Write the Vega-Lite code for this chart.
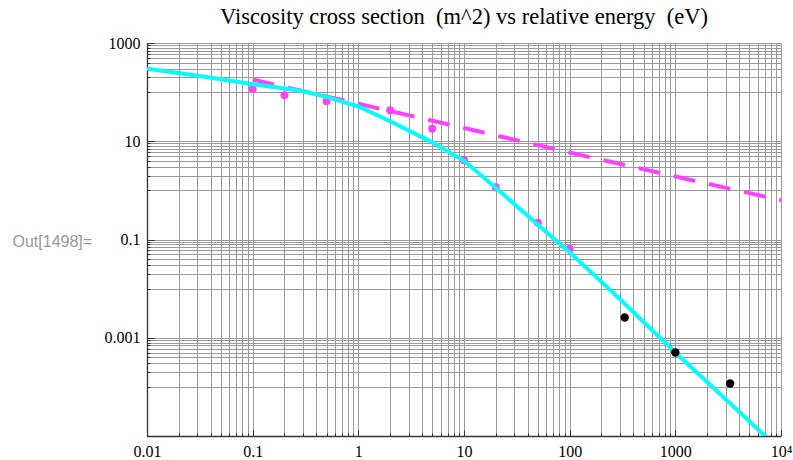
{
  "$schema": "https://vega.github.io/schema/vega-lite/v6.json",
  "width": 634,
  "height": 393,
  "autosize": {"type": "none"},
  "padding": {"left": 147, "top": 43, "right": 12, "bottom": 24},
  "background": "white",
  "config": {"view": {"stroke": null}},
  "title": {
    "text": "Viscosity cross section \u00a0(m^2) vs relative energy \u00a0(eV)",
    "font": "Liberation Serif",
    "fontSize": 22.5,
    "fontWeight": "normal",
    "color": "black",
    "anchor": "middle",
    "baseline": "alphabetic",
    "offset": 15,
    "dy": 26
  },
  "datasets": {
    "cyan": [
      {"e": 0.01, "s": 300}, {"e": 0.02, "s": 245}, {"e": 0.05, "s": 182},
      {"e": 0.1, "s": 145}, {"e": 0.2, "s": 118}, {"e": 0.3, "s": 104},
      {"e": 0.5, "s": 80}, {"e": 0.7, "s": 64}, {"e": 1, "s": 51},
      {"e": 2, "s": 25.5}, {"e": 5, "s": 9.5}, {"e": 10, "s": 4.0},
      {"e": 20, "s": 1.13}, {"e": 50, "s": 0.2}, {"e": 100, "s": 0.055},
      {"e": 300, "s": 0.0061}, {"e": 1000, "s": 0.0005}, {"e": 3000, "s": 0.000056},
      {"e": 7500, "s": 0.0000089}
    ],
    "fit": [
      {"e": 0.1, "s": 180}, {"e": 1, "s": 58}, {"e": 10, "s": 18.6},
      {"e": 100, "s": 5.9}, {"e": 1000, "s": 1.92}, {"e": 10000, "s": 0.63}
    ],
    "pink": [
      {"e": 0.1, "s": 116}, {"e": 0.2, "s": 86}, {"e": 0.5, "s": 65},
      {"e": 2, "s": 42.7}, {"e": 5, "s": 18}, {"e": 10, "s": 4.1},
      {"e": 20, "s": 1.16}, {"e": 50, "s": 0.22}, {"e": 100, "s": 0.065}
    ],
    "black": [
      {"e": 332, "s": 0.00258}, {"e": 1000, "s": 0.0005}, {"e": 3300, "s": 0.000117}
    ]
  },
  "encoding": {
    "x": {
      "field": "e",
      "type": "quantitative",
      "scale": {"type": "log", "domain": [0.01, 10000], "nice": false},
      "axis": {
        "title": null,
        "values": [0.01,0.02,0.03,0.04,0.05,0.06,0.07,0.08,0.09,0.1,0.2,0.3,0.4,0.5,0.6,0.7,0.8,0.9,1,2,3,4,5,6,7,8,9,10,20,30,40,50,60,70,80,90,100,200,300,400,500,600,700,800,900,1000,2000,3000,4000,5000,6000,7000,8000,9000,10000],
        "labelExpr": "datum.value == 0.01 ? '0.01' : datum.value == 0.1 ? '0.1' : datum.value == 1 ? '1' : datum.value == 10 ? '10' : datum.value == 100 ? '100' : datum.value == 1000 ? '1000' : datum.value == 10000 ? '10\u2074' : ''",
        "grid": true,
        "gridColor": "#9a9a9a",
        "gridWidth": 1,
        "domain": true,
        "domainColor": "#333333",
        "domainWidth": 1.3,
        "ticks": true,
        "tickColor": "#333333",
        "tickWidth": 1,
        "tickSize": {"condition": {"test": "indexof([0.01,0.1,1,10,100,1000,10000], datum.value) >= 0", "value": -6}, "value": -3},
        "labelFont": "Liberation Serif",
        "labelFontSize": 16,
        "labelColor": "black",
        "labelPadding": 13,
        "labelFlush": false,
        "labelOverlap": false,
        "labelBound": false
      }
    },
    "y": {
      "field": "s",
      "type": "quantitative",
      "scale": {"type": "log", "domain": [0.00001, 1000], "nice": false},
      "axis": {
        "title": "Out[1498]=",
        "titleAngle": 0,
        "titleAlign": "left",
        "titleBaseline": "middle",
        "titleX": -135,
        "titleY": 198,
        "titleFont": "Liberation Sans",
        "titleFontSize": 16,
        "titleFontWeight": "normal",
        "titleColor": "#999999",
        "values": [0.0001,0.0002,0.0003,0.0004,0.0005,0.0006,0.0007,0.0008,0.0009,0.001,0.01,0.02,0.03,0.04,0.05,0.06,0.07,0.08,0.09,0.1,1,2,3,4,5,6,7,8,9,10,100,200,300,400,500,600,700,800,900,1000],
        "labelExpr": "datum.value == 1000 ? '1000' : datum.value == 10 ? '10' : datum.value == 0.1 ? '0.1' : datum.value == 0.001 ? '0.001' : ''",
        "grid": true,
        "gridColor": "#9a9a9a",
        "gridWidth": 1,
        "domain": true,
        "domainColor": "#333333",
        "domainWidth": 1.3,
        "ticks": true,
        "tickColor": "#333333",
        "tickWidth": 1,
        "tickSize": {"condition": {"test": "indexof([1000,10,0.1,0.001], datum.value) >= 0", "value": -7}, "value": -3},
        "labelFont": "Liberation Serif",
        "labelFontSize": 16,
        "labelColor": "black",
        "labelPadding": 14,
        "labelFlush": false,
        "labelOverlap": false,
        "labelBound": false
      }
    }
  },
  "layer": [
    {
      "data": {"name": "fit"},
      "mark": {"type": "line", "color": "#FF44FF", "strokeWidth": 4, "strokeDash": [22, 14], "clip": true}
    },
    {
      "data": {"name": "pink"},
      "mark": {"type": "circle", "color": "#FF44FF", "size": 64, "opacity": 1}
    },
    {
      "data": {"name": "cyan"},
      "mark": {"type": "line", "color": "#00FFFF", "strokeWidth": 4, "clip": true}
    },
    {
      "data": {"name": "black"},
      "mark": {"type": "circle", "color": "#000000", "size": 70, "opacity": 1}
    }
  ]
}
